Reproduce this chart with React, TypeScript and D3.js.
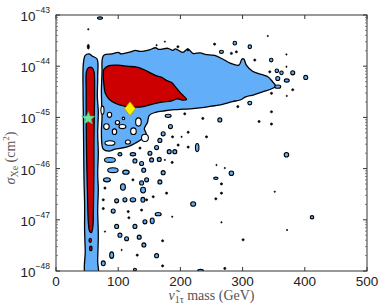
import * as d3 from "d3";
import React from "react";

// x: sneutrino mass (GeV), y: log10 of sigma_Xe (cm^2)
type Pt = [number, number];

const massTicks = [0, 100, 200, 300, 400, 500];
const expTicks = [-48, -47, -46, -45, -44, -43];

// 95% region (blue) outlines
const blueBand: Pt[] = [
  [44, -43.95], [47, -43.79], [53, -43.76], [58, -43.8], [66, -43.86],
  [67, -44.2], [66.5, -44.6], [68, -44.9], [67, -45.3], [68, -45.7], [67, -46.1],
  [68, -46.4], [67, -46.8], [68, -47.3], [67, -47.8], [67, -48.1], [48, -48.1],
  [47, -47.6], [46, -47.2], [46, -46.7], [45, -46.2], [44.5, -45.6],
  [44, -45.0], [43.5, -44.5],
];

const blueMain: Pt[] = [
  [74, -43.9], [76, -43.8], [80, -43.77], [90, -43.76], [100, -43.73], [105, -43.76],
  [120, -43.72], [128, -43.69], [135, -43.71], [150, -43.68], [160, -43.64], [165, -43.67],
  [180, -43.65], [188, -43.69], [192, -43.66], [204, -43.73], [212, -43.66],
  [220, -43.75], [232, -43.74], [240, -43.77], [255, -43.79], [268, -43.86],
  [280, -43.94], [294, -43.98], [299, -43.86], [302, -43.86], [306, -43.98],
  [316, -44.1], [330, -44.16], [340, -44.2], [348, -44.3], [353, -44.39],
  [345, -44.45], [332, -44.5], [318, -44.56], [305, -44.6], [296, -44.66],
  [284, -44.69], [275, -44.72], [262, -44.76], [250, -44.78], [235, -44.81],
  [220, -44.83], [205, -44.84], [190, -44.85], [175, -44.87], [160, -44.9],
  [150, -44.96], [147, -45.1], [142, -45.22], [145, -45.32], [138, -45.42],
  [128, -45.5], [118, -45.56], [105, -45.6], [95, -45.62], [85, -45.66],
  [76, -45.62], [73, -45.3], [74, -45.0], [73, -44.5], [74, -44.1],
];

// 68% region (red) outlines
const redBand: Pt[] = [
  [49, -44.1], [52, -44.03], [58, -44.03], [61, -44.1], [62, -44.5],
  [61.5, -45], [61, -45.5], [61, -46], [60.5, -46.5], [60, -46.9],
  [59.5, -47.1], [57, -47.25], [54, -47.22], [52, -47.05], [51, -46.7],
  [50, -46.2], [49, -45.6], [48.5, -45], [48.5, -44.5],
];

const redMain: Pt[] = [
  [77, -44.06], [85, -43.99], [100, -43.98], [115, -44.0], [130, -44.02],
  [140, -44.06], [150, -44.12], [160, -44.18], [170, -44.22], [178, -44.28],
  [186, -44.32], [193, -44.42], [200, -44.52], [205, -44.58], [210, -44.65],
  [203, -44.66], [195, -44.64], [185, -44.68], [170, -44.7], [155, -44.74],
  [140, -44.79], [125, -44.8], [110, -44.78], [95, -44.72], [85, -44.64],
  [79, -44.52], [77, -44.35], [76, -44.2],
];

// [mass, log10 sigma, width GeV, height decades]
const redIslands: number[][] = [
  [55, -47.4, 4, 0.08],
  [56, -47.56, 4, 0.09],
];

const holes: number[][] = [
  [74.7, -44.86, 5, 0.16], [86, -44.95, 7, 0.1], [98.8, -45.1, 7, 0.08],
  [108.4, -45.02, 4, 0.05], [132.5, -45.09, 9, 0.16], [81.1, -45.18, 9, 0.11],
  [94, -45.28, 7, 0.11], [106.8, -45.18, 11, 0.08], [124.5, -45.27, 9, 0.13],
  [143, -45.4, 11, 0.14], [86.7, -45.5, 16, 0.09], [115.6, -45.48, 8, 0.08],
];

const islands: number[][] = [
  [51.9, -43.28, 3, 0.04], [70.7, -43.06, 10, 0.06], [51.9, -43.62, 5, 0.13],
  [175, -43.52, 3, 0.04], [161.7, -43.59, 3, 0.04], [196, -43.62, 5, 0.06],
  [212, -43.68, 5, 0.06], [255, -43.57, 5, 0.06], [287.5, -43.55, 7, 0.09],
  [311.6, -43.62, 7, 0.09], [340.5, -43.41, 3, 0.04], [266, -43.72, 8, 0.08],
  [282, -43.75, 5, 0.06], [290, -43.72, 5, 0.06], [346, -43.88, 7, 0.09],
  [370.5, -43.77, 3, 0.04], [319.6, -43.88, 5, 0.06], [343.7, -44.11, 5, 0.06],
  [355, -44.09, 7, 0.09], [362.5, -44.13, 7, 0.09], [380.6, -44.13, 8, 0.1],
  [401.5, -44.22, 8, 0.1], [370.5, -44.01, 3, 0.04], [356.5, -44.24, 8, 0.1],
  [371, -44.28, 10, 0.08], [356.5, -44.4, 12, 0.08], [346.4, -44.53, 5, 0.06],
  [380.6, -44.46, 5, 0.06], [371, -44.58, 3, 0.04], [292.3, -44.79, 5, 0.06],
  [311.6, -44.72, 8, 0.09], [346.4, -44.89, 5, 0.06], [236, -45.02, 5, 0.06],
  [263.4, -45.05, 8, 0.1], [326.5, -45.08, 5, 0.06], [346.4, -45.13, 5, 0.06],
  [242, -45.38, 5, 0.06], [207, -44.93, 5, 0.06], [180.3, -44.97, 12, 0.08],
  [184, -45.18, 8, 0.1], [212.5, -45.29, 5, 0.06], [172.3, -45.32, 8, 0.1],
  [187.4, -45.38, 5, 0.06], [201.9, -45.38, 3, 0.04], [167, -45.45, 8, 0.1],
  [196.4, -45.54, 5, 0.06], [212.5, -45.58, 5, 0.06], [227, -45.59, 7, 0.2],
  [161.7, -45.59, 8, 0.1], [182, -45.67, 8, 0.1], [191, -45.67, 8, 0.1],
  [151, -45.7, 8, 0.1], [166, -45.82, 8, 0.1], [153.7, -45.83, 8, 0.1],
  [186.8, -45.88, 5, 0.06], [175, -45.83, 3, 0.04], [258, -45.93, 3, 0.04],
  [271.4, -45.99, 3, 0.04], [370.5, -45.73, 9, 0.11], [282, -46.09, 9, 0.11],
  [257, -46.19, 9, 0.06], [172.3, -46.08, 8, 0.1], [141, -46.03, 8, 0.1],
  [145.7, -46.22, 8, 0.1], [167, -46.26, 8, 0.1], [140, -46.42, 10, 0.14],
  [177.8, -46.48, 5, 0.06], [266, -46.3, 5, 0.06], [266, -46.48, 5, 0.06],
  [257, -46.59, 5, 0.06], [351.7, -46.45, 3, 0.04], [220.5, -46.69, 10, 0.11],
  [156.3, -46.55, 5, 0.06], [145.7, -46.61, 5, 0.06], [164.3, -46.89, 12, 0.08],
  [154.7, -47.02, 8, 0.14], [186.8, -46.94, 3, 0.04], [266, -47.05, 3, 0.04],
  [300.8, -47.39, 5, 0.06], [371.5, -47.2, 3, 0.04], [411.6, -46.95, 7, 0.08],
  [141.3, -47.49, 8, 0.1], [171.4, -47.41, 5, 0.06], [161.7, -47.7, 8, 0.1],
  [171.4, -47.9, 5, 0.06], [271.4, -47.95, 5, 0.06], [232.4, -48.0, 12, 0.08],
  [126.9, -47.97, 6, 0.06], [76, -46.61, 5, 0.06], [97.5, -46.63, 8, 0.1],
  [110.8, -46.61, 8, 0.1], [123.7, -46.61, 11, 0.1], [139.7, -46.61, 8, 0.12],
  [76, -46.78, 5, 0.06], [92, -46.83, 8, 0.1], [116.1, -46.84, 5, 0.06],
  [137.6, -46.81, 5, 0.06], [117.2, -46.96, 5, 0.06], [97.5, -47.13, 8, 0.1],
  [126.9, -47.13, 8, 0.1], [143, -47.04, 8, 0.1], [102.8, -47.3, 8, 0.1],
  [113.5, -47.37, 8, 0.1], [133.8, -47.34, 8, 0.1], [89.5, -47.69, 8, 0.16],
  [76, -47.85, 8, 0.12], [130.6, -47.69, 5, 0.06], [78.7, -47.23, 3, 0.04],
  [105.5, -47.59, 3, 0.04], [86.7, -45.83, 22, 0.12], [91.5, -46.03, 21, 0.12],
  [81.9, -46.22, 14, 0.1], [112.4, -46.07, 13, 0.1], [102.8, -45.72, 8, 0.08],
  [123.7, -45.72, 11, 0.08], [135, -45.6, 5, 0.06], [126.9, -45.85, 8, 0.1],
  [137.6, -45.9, 8, 0.1], [107.6, -46.36, 10, 0.16], [123.7, -46.22, 5, 0.06],
  [137.6, -46.28, 8, 0.1], [78.7, -46.38, 5, 0.06],
];

// best-fit points
const starPoint: Pt = [52, -45.02];
const diamondPoint: Pt = [119, -44.83];

const BLUE = "#62aef8";
const RED = "#cc0000";

const App: React.FC = () => {
  const width = 382;
  const height = 308;
  const x = d3.scaleLinear().domain([0, 500]).range([56, 367]);
  const y = d3.scaleLog().domain([1e-48, 1e-43]).range([271, 15]);
  const py = (e: number) => y(Math.pow(10, e));

  const outline = d3
    .line<Pt>()
    .x((d) => x(d[0]))
    .y((d) => py(d[1]))
    .curve(d3.curveCatmullRomClosed.alpha(0.5));

  // contour islands: tiny ones come out as solid black dots
  const blob = (d: number[], fill: string, key: string, k = 0.8) => {
    const cx = x(d[0]);
    const cy = py(d[1]);
    const rx = Math.abs(x(d[0] + d[2] / 2) - cx) * k;
    const ry = Math.abs(py(d[1] + d[3] / 2) - cy) * k;
    const tiny = d[2] <= 5 && fill === BLUE;
    return (
      <ellipse key={key} cx={cx} cy={cy} rx={tiny ? rx * 0.9 : rx} ry={tiny ? ry * 0.9 : ry}
        fill={tiny ? "#000" : fill} stroke="#000" strokeWidth={tiny ? 0.6 : 1.1} />
    );
  };

  // minor log ticks
  const minor: number[] = [];
  for (let e = -48; e < -43; e++) {
    for (let m = 2; m <= 9; m++) minor.push(m * Math.pow(10, e));
  }

  // star shape
  const sx = x(starPoint[0]);
  const sy = py(starPoint[1]);
  const starPts = d3.range(10).map((i) => {
    const r = i % 2 === 0 ? 7 : 3;
    const a = -Math.PI / 2 + (i * Math.PI) / 5;
    return `${sx + r * Math.cos(a)},${sy + r * Math.sin(a)}`;
  });
  const dx = x(diamondPoint[0]);
  const dy = py(diamondPoint[1]);

  const left = x(0), right = x(500), top = y(1e-43), bottom = y(1e-48);

  return (
    <svg width={width} height={height}
      style={{ position: "absolute", left: 0, top: 0, background: "#fff" }}>
      <defs>
        <clipPath id="plot">
          <rect x={left} y={top} width={right - left} height={bottom - top} />
        </clipPath>
      </defs>
      <g clipPath="url(#plot)">
        <path d={outline(blueBand)!} fill={BLUE} stroke="#000" strokeWidth={1.3} />
        <path d={outline(blueMain)!} fill={BLUE} stroke="#000" strokeWidth={1.3} />
        {holes.map((d, i) => blob(d, "#fff", "h" + i, 1))}
        {islands.map((d, i) => blob(d, BLUE, "i" + i))}
        <path d={outline(redBand)!} fill={RED} stroke="#000" strokeWidth={1.3} />
        <path d={outline(redMain)!} fill={RED} stroke="#000" strokeWidth={1.3} />
        {redIslands.map((d, i) => blob(d, RED, "r" + i, 1))}
        <polygon points={starPts.join(" ")} fill="#6ee79a" stroke="#3fa860" strokeWidth={0.6} />
        <polygon
          points={`${dx},${dy - 7} ${dx + 5.5},${dy} ${dx},${dy + 7} ${dx - 5.5},${dy}`}
          fill="#ffee00" stroke="#a89000" strokeWidth={0.7} />
      </g>

      {/* frame and ticks */}
      <rect x={left} y={top} width={right - left} height={bottom - top}
        fill="none" stroke="#333" strokeWidth={1} />
      {massTicks.map((t) => (
        <g key={"xt" + t}>
          <line x1={x(t)} x2={x(t)} y1={bottom} y2={bottom - 4} stroke="#333" />
          <line x1={x(t)} x2={x(t)} y1={top} y2={top + 4} stroke="#333" />
          <text x={x(t)} y={286} textAnchor="middle" fontFamily="Liberation Sans, Arial"
            fontSize={13.5} fill="#222">{t}</text>
        </g>
      ))}
      {expTicks.map((e) => (
        <g key={"yt" + e}>
          <line x1={left} x2={left + 4} y1={py(e)} y2={py(e)} stroke="#333" />
          <line x1={right} x2={right - 4} y1={py(e)} y2={py(e)} stroke="#333" />
          <text x={50} y={py(e) + 6} textAnchor="end" fontFamily="Liberation Sans, Arial"
            fontSize={13.5} fill="#222">
            10<tspan dy={-8} fontSize={8.5}>{"\u2212" + Math.abs(e)}</tspan>
          </text>
        </g>
      ))}
      {minor.map((v, i) => (
        <g key={"mt" + i}>
          <line x1={left} x2={left + 2} y1={y(v)} y2={y(v)} stroke="#555" strokeWidth={0.7} />
          <line x1={right} x2={right - 2} y1={y(v)} y2={y(v)} stroke="#555" strokeWidth={0.7} />
        </g>
      ))}

      {/* axis titles */}
      <text x={(left + right) / 2} y={300} textAnchor="middle"
        fontFamily="Liberation Serif, serif" fontSize={14} fill="#555">
        <tspan fontStyle="italic">{"\u03bd\u0303"}</tspan>
        <tspan dy={3} fontSize={10}>{"1\u03c4"}</tspan>
        <tspan dy={-3}>{" mass (GeV)"}</tspan>
      </text>
      <text transform={`translate(15,${(top + bottom) / 2 + 15}) rotate(-90)`} textAnchor="middle"
        fontFamily="Liberation Serif, serif" fontSize={14} fill="#555">
        <tspan fontStyle="italic">{"\u03c3"}</tspan>
        <tspan dy={3} fontSize={10}>Xe</tspan>
        <tspan dy={-3}>{" (cm"}</tspan>
        <tspan dy={-6} fontSize={9}>2</tspan>
        <tspan dy={6}>)</tspan>
      </text>
    </svg>
  );
};

export default App;
